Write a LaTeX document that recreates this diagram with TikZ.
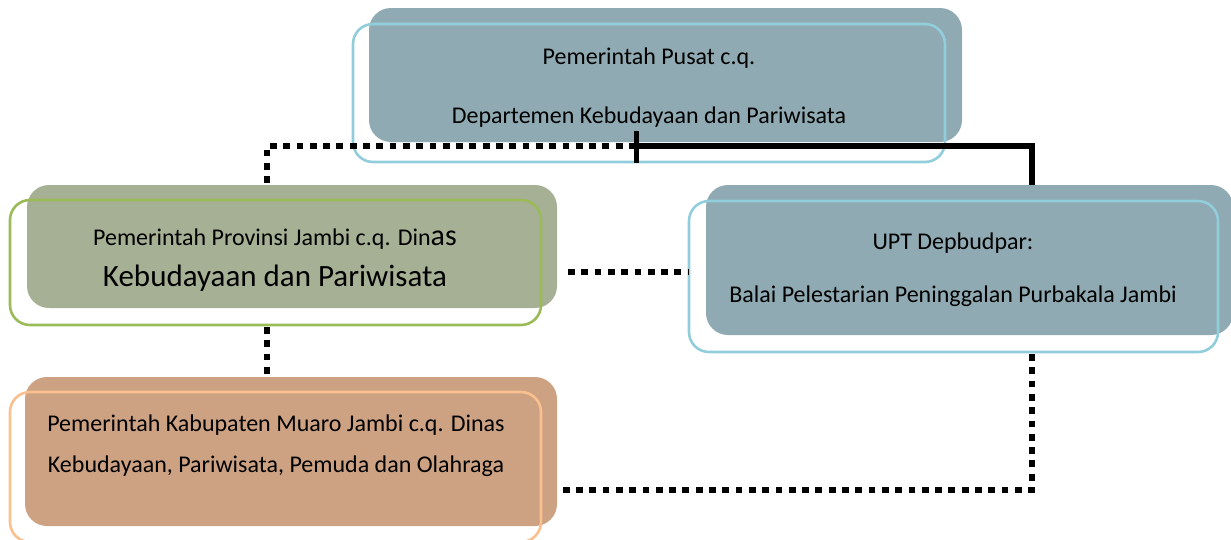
\documentclass[tikz,border=0pt]{standalone}
\usepackage{fontspec}
\setmainfont{Carlito}
\definecolor{bluefill}{RGB}{143,170,178}
\definecolor{blueline}{RGB}{146,205,220}
\definecolor{greenfill}{RGB}{166,176,148}
\definecolor{greenline}{RGB}{155,187,89}
\definecolor{orangefill}{RGB}{205,162,131}
\definecolor{orangeline}{RGB}{250,192,143}
\begin{document}
\begin{tikzpicture}[x=1pt,y=-1pt,
  fillbox/.style={draw=none, rounded corners=22pt, inner sep=0pt, outer sep=0pt, anchor=north west},
  linebox/.style={draw, line width=2.6pt, rounded corners=20pt, inner sep=0pt, outer sep=0pt, anchor=north west},
  dotline/.style={line width=6.8pt, dash pattern=on 6.8pt off 6.5pt},
  solidline/.style={line width=5.5pt},
  lbl/.style={align=center, inner sep=0pt, text=black}]
\useasboundingbox (0,0) rectangle (1231,539);
% fills
\node[fillbox, fill=bluefill, minimum width=593pt, minimum height=134pt] (topF) at (369,8) {};
\node[fillbox, fill=greenfill, minimum width=530pt, minimum height=123pt] (provF) at (27,185) {};
\node[fillbox, fill=bluefill, minimum width=527pt, minimum height=150pt] (uptF) at (706,185) {};
\node[fillbox, fill=orangefill, minimum width=532pt, minimum height=149pt] (kabF) at (25,377) {};
% outlines
\node[linebox, draw=blueline, minimum width=592pt, minimum height=138pt] (topO) at (353,24) {};
\node[linebox, draw=greenline, minimum width=531pt, minimum height=125pt] (provO) at (10,200) {};
\node[linebox, draw=blueline, minimum width=529pt, minimum height=151pt] (uptO) at (689,201) {};
\node[linebox, draw=orangeline, minimum width=531pt, minimum height=150pt] (kabO) at (10,392) {};
% connector points
\coordinate (a1) at (267,183);
\coordinate (a2) at (267,146);
\coordinate (a3) at (636,146);
\coordinate (a4) at (1032,146);
\coordinate (t1) at (636,131);
\coordinate (t2) at (636,163);
\coordinate (b1) at (568,272);
\coordinate (b2) at (689,272);
\coordinate (d1) at (267,327);
\coordinate (d2) at (267,375);
\coordinate (e1) at (1032,354);
\coordinate (e2) at (1032,490);
\coordinate (e3) at (563,490);
% connectors
\draw[dotline] (a1) -- (a2) -- (a3);
\draw[solidline] (a3) -- (a4) -- (a4 |- uptF.north);
\draw[line width=5pt] (t1) -- (t2);
\draw[dotline] (b1) -- (b2);
\draw[dotline] (d1) -- (d2);
\draw[dotline] (e1) -- (e2) -- (e3);
% labels
\node[lbl, font=\fontsize{24}{59}\selectfont] (topT) at (649,88) {Pemerintah Pusat c.q.\\Departemen Kebudayaan dan Pariwisata};
\node[lbl, font=\fontsize{24}{41}\selectfont] (provT) at (275,260) {Pemerintah Provinsi Jambi c.q. Din{\fontsize{30}{41}\selectfont as}\\{\fontsize{31}{41}\selectfont Kebudayaan dan Pariwisata}};
\node[lbl, font=\fontsize{24}{53}\selectfont] (uptT) at (953,270) {UPT Depbudpar:\\Balai Pelestarian Peninggalan Purbakala Jambi};
\node[lbl, font=\fontsize{24}{41}\selectfont] (kabT) at (276,446) {Pemerintah Kabupaten Muaro Jambi c.q. Dinas\\Kebudayaan, Pariwisata, Pemuda dan Olahraga};
\end{tikzpicture}
\end{document}
